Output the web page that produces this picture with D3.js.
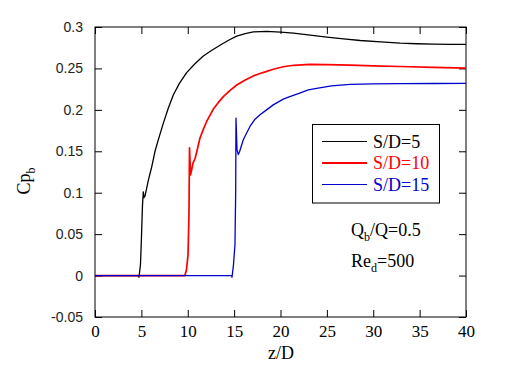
<!DOCTYPE html>
<html>
<head>
<meta charset="utf-8">
<script src="https://cdn.jsdelivr.net/npm/d3@7"></script>
<style>
	body { margin: 0; background: #fff; }
	svg { display: block; }
	.serif { font-family: 'Liberation Serif', 'DejaVu Serif', 'Times New Roman', serif; }
	.sans { font-family: 'Liberation Sans', Arial, sans-serif; }
</style>
</head>
<body>
<svg id="chart" width="530" height="370"></svg>
<script>
(function() {

	// values, [z/D, Cp_b]
	var s5 = [[0,0],[4.64,0],[4.74,-0.002],[4.9,0.013],[5.0,0.043],[5.12,0.085],[5.21,0.101],[5.28,0.094],
		[5.39,0.096],[5.75,0.115],[6.11,0.131],[6.47,0.150],[6.83,0.164],[7.37,0.184],[7.9,0.202],[8.44,0.218],
		[9.1,0.232],[9.88,0.245],[10.8,0.256],[11.68,0.265],[12.6,0.272],[13.48,0.278],[14.4,0.284],[15.27,0.289],
		[16.2,0.292],[17.07,0.294],[18.5,0.2946],[20,0.2938],[21.4,0.2926],[23.2,0.2903],[25,0.2878],[26.8,0.2856],
		[28.6,0.2837],[30.8,0.282],[32.9,0.2805],[34.7,0.2798],[36.5,0.2794],[38.3,0.2791],[40,0.279]];
	var s10 = [[0,0],[9.7,0],[9.86,0.007],[10.03,0.025],[10.13,0.073],[10.19,0.154],[10.3,0.1215],[10.42,0.1275],
		[10.57,0.136],[10.78,0.141],[11.05,0.153],[11.32,0.166],[11.7,0.177],[12.04,0.186],[12.76,0.201],[13.3,0.209],
		[13.84,0.216],[14.5,0.223],[15.28,0.230],[16.2,0.236],[17.07,0.241],[18.1,0.245],[19.22,0.249],[20.3,0.252],
		[21.4,0.2538],[23.2,0.2548],[25,0.2547],[27.5,0.254],[30,0.2532],[32.9,0.2523],[36.5,0.2512],[40,0.2503]];
	var s15 = [[0,0],[14.74,0],[14.77,-0.002],[14.93,0.013],[15.09,0.037],[15.17,0.103],[15.2,0.19],[15.31,0.152],
		[15.45,0.146],[15.6,0.150],[15.99,0.164],[16.35,0.172],[16.71,0.180],[17.2,0.188],[17.79,0.194],[18.5,0.200],
		[19.22,0.206],[20.3,0.213],[21.0,0.216],[22.0,0.220],[23.0,0.224],[23.9,0.226],[25.5,0.229],[27.5,0.2308],
		[30,0.2313],[32.9,0.2316],[36.5,0.2318],[40,0.232]];

	var seriesNames = ['S/D=5', 'S/D=10', 'S/D=15'];
	var seriesColors = ['#000000', '#ff0000', '#0000cc'];
	var seriesWidths = [1.3, 1.7, 1.3];
	var xTicks = [0, 5, 10, 15, 20, 25, 30, 35, 40];
	var yTicks = [-0.05, 0, 0.05, 0.1, 0.15, 0.2, 0.25, 0.3];

	var LEFT = 95, RIGHT = 466, TOP = 27, BOTTOM = 317;
	var TICK = 7;

	var svg = d3.select('#chart');
	var x = d3.scaleLinear().domain([0, 40]).range([LEFT, RIGHT]);
	var y = d3.scaleLinear().domain([-0.05, 0.3]).range([BOTTOM, TOP]);

	// frame
	svg.append('rect')
		.attr('x', LEFT).attr('y', TOP)
		.attr('width', RIGHT - LEFT).attr('height', BOTTOM - TOP)
		.attr('fill', 'none').attr('stroke', '#000').attr('stroke-width', 1);

	// axes with inward ticks on all four sides
	function styleAxis(g) {
		g.select('.domain').remove();
		g.attr('font-family', null).attr('font-size', null);
		g.selectAll('line').attr('stroke', '#000');
	}
	svg.append('g').attr('transform', 'translate(0,' + BOTTOM + ')')
		.call(d3.axisBottom(x).tickValues(xTicks).tickSizeInner(-TICK).tickSizeOuter(0).tickPadding(8).tickFormat(d3.format('d')))
		.call(styleAxis)
		.selectAll('text').attr('class', 'serif').style('font-size', '17px').attr('fill', '#000');
	svg.append('g').attr('transform', 'translate(0,' + TOP + ')')
		.call(d3.axisTop(x).tickValues(xTicks).tickSizeInner(-TICK).tickSizeOuter(0).tickFormat(''))
		.call(styleAxis);
	svg.append('g').attr('transform', 'translate(' + LEFT + ',0)')
		.call(d3.axisLeft(y).tickValues(yTicks).tickSizeInner(-TICK).tickSizeOuter(0).tickPadding(12).tickFormat(function(d) { return String(+d.toFixed(2)); }))
		.call(styleAxis)
		.selectAll('text').attr('class', 'sans').style('font-size', '14px').attr('fill', '#222');
	svg.append('g').attr('transform', 'translate(' + RIGHT + ',0)')
		.call(d3.axisRight(y).tickValues(yTicks).tickSizeInner(-TICK).tickSizeOuter(0).tickFormat(''))
		.call(styleAxis);

	// curves
	var line = d3.line().x(function(d) { return x(d[0]); }).y(function(d) { return y(d[1]); });
	[s5, s10, s15].forEach(function(s, i) {
		svg.append('path')
			.datum(s)
			.attr('d', line)
			.attr('fill', 'none')
			.attr('stroke', seriesColors[i])
			.attr('stroke-width', seriesWidths[i])
			.attr('stroke-linejoin', 'round');
	});

	// axis titles
	svg.append('text')
		.attr('class', 'serif')
		.attr('x', 281).attr('y', 359)
		.attr('text-anchor', 'middle')
		.style('font-size', '18px')
		.text('z/D');
	var yl = svg.append('text')
		.attr('class', 'serif')
		.attr('transform', 'translate(30,181) rotate(-90)')
		.attr('text-anchor', 'middle')
		.style('font-size', '18px');
	yl.append('tspan').text('Cp');
	yl.append('tspan').attr('dy', 5).style('font-size', '12px').text('b');

	// legend
	var lg = svg.append('g');
	lg.append('rect')
		.attr('x', 312.5).attr('y', 124.5).attr('width', 127).attr('height', 78.5)
		.attr('fill', '#fff').attr('stroke', '#000').attr('stroke-width', 1);
	seriesNames.forEach(function(name, i) {
		var ly = 141.5 + i * 21.5;
		lg.append('line')
			.attr('x1', 322).attr('x2', 367).attr('y1', ly).attr('y2', ly)
			.attr('stroke', seriesColors[i]).attr('stroke-width', i == 1 ? 2 : 1);
		lg.append('text')
			.attr('class', 'serif')
			.attr('x', 373).attr('y', ly + 6)
			.style('font-size', '18px')
			.attr('fill', seriesColors[i])
			.text(name);
	});

	// annotations
	var q = svg.append('text').attr('class', 'serif').attr('x', 351).attr('y', 236).style('font-size', '18px');
	q.append('tspan').text('Q');
	q.append('tspan').attr('dy', 5).style('font-size', '12px').text('b');
	q.append('tspan').attr('dy', -5).text('/Q=0.5');
	var re = svg.append('text').attr('class', 'serif').attr('x', 351).attr('y', 267).style('font-size', '18px');
	re.append('tspan').text('Re');
	re.append('tspan').attr('dy', 5).style('font-size', '12px').text('d');
	re.append('tspan').attr('dy', -5).text('=500');
}());
</script>
</body>
</html>
